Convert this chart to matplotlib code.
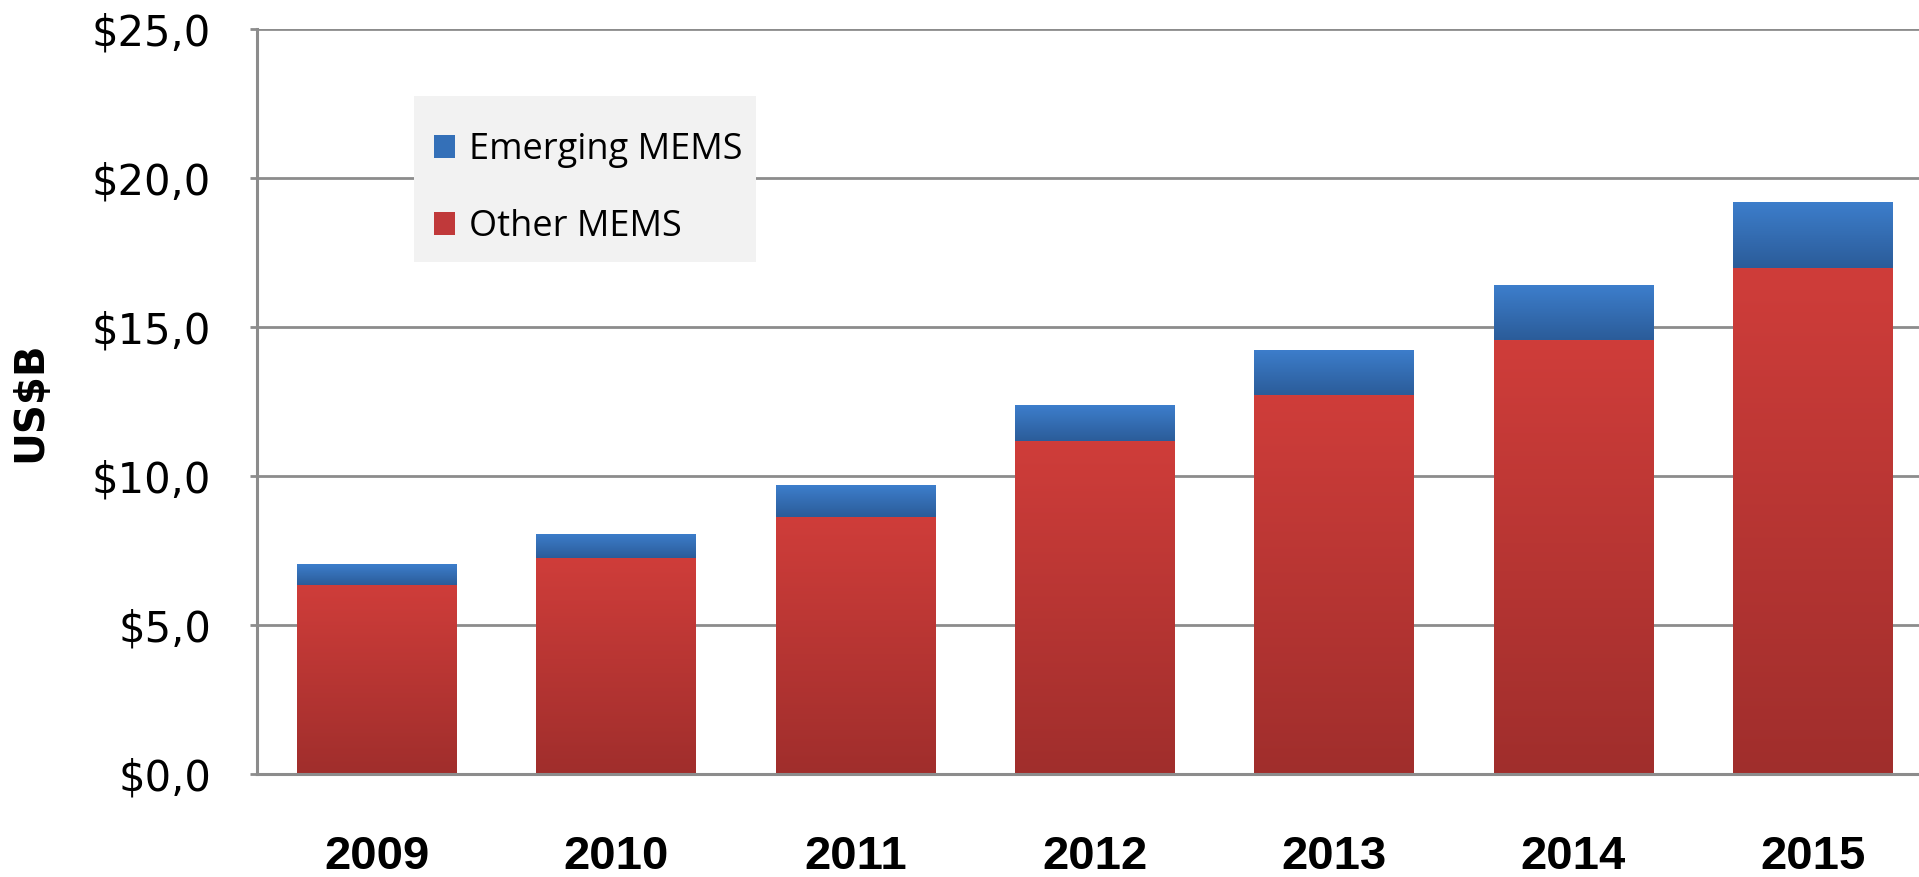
"""
MEMS market chart: stacked bars, other vs emerging MEMS (US$B).
"""
import numpy as np
import matplotlib.pyplot as plt
from matplotlib.colors import LinearSegmentedColormap
from matplotlib.patches import Rectangle
from matplotlib.ticker import FuncFormatter

years = ['2009', '2010', '2011', '2012', '2013', '2014', '2015']
other_mems = [6.35, 7.24, 8.63, 11.18, 12.70, 14.58, 16.98]
emerging_mems = [0.69, 0.81, 1.07, 1.19, 1.53, 1.82, 2.22]
y_ticks = [0, 5, 10, 15, 20, 25]

RED_TOP, RED_BOTTOM = '#CF3D3A', '#A02E2C'
BLUE_TOP, BLUE_BOTTOM = '#3D7ECC', '#2B5C99'
GRID = '#8C8C8C'


def shade_bars(ax, bars, top_color, bottom_color):
    """Paint a vertical gradient into each bar (top light, bottom dark)."""
    cmap = LinearSegmentedColormap.from_list('g', [bottom_color, top_color])
    grad = np.linspace(0, 1, 256).reshape(-1, 1)
    for bar in bars:
        x0, y0 = bar.get_x(), bar.get_y()
        x1, y1 = x0 + bar.get_width(), y0 + bar.get_height()
        im = ax.imshow(grad, cmap=cmap, origin='lower', aspect='auto',
                       extent=(x0, x1, y0, y1), zorder=bar.get_zorder() + 0.1)
        im.set_clip_path(bar)


def create_chart():
    fig = plt.figure(figsize=(19.19, 8.77), dpi=100)
    ax = fig.add_axes([0.1339, 0.118, 0.873, 0.8485])

    x = np.arange(len(years))
    width = 0.665

    red = ax.bar(x, other_mems, width, color='#C0393A', label='Other MEMS', zorder=3)
    blue = ax.bar(x, emerging_mems, width, bottom=other_mems, color='#3470B8',
                  label='Emerging MEMS', zorder=3)
    shade_bars(ax, red, RED_TOP, RED_BOTTOM)
    shade_bars(ax, blue, BLUE_TOP, BLUE_BOTTOM)

    ax.set_xlim(-0.5, len(years) - 0.5)
    ax.set_ylim(0, 25)

    # Axis styling
    ax.set_yticks(y_ticks)
    ax.yaxis.set_major_formatter(FuncFormatter(lambda v, p: f'${v:.1f}'.replace('.', ',')))
    ax.set_xticks(x)
    ax.set_xticklabels(years, family=['Liberation Sans', 'DejaVu Sans'],
                       fontweight='bold', fontsize=34)
    ax.tick_params(axis='x', length=0, pad=44)
    ax.tick_params(axis='y', length=5, width=2, color=GRID, labelsize=30, pad=28)
    ax.yaxis.grid(True, color=GRID, linewidth=2.0, zorder=0)
    ax.set_axisbelow(True)
    for side in ['top', 'right']:
        ax.spines[side].set_visible(False)
    for side in ['left', 'bottom']:
        ax.spines[side].set_color(GRID)
        ax.spines[side].set_linewidth(2.2)
    ax.spines['bottom'].set_zorder(4)

    ax.set_ylabel('US$B', fontsize=29, fontweight='bold', labelpad=30)

    # Legend background box (drawn separately so the entries can sit low in it)
    ax.add_patch(Rectangle((0.2156, 0.7013), 0.1786, 0.1898,
                           transform=fig.transFigure, facecolor='#F2F2F2',
                           edgecolor='none', zorder=4.5, clip_on=False))

    # Legend: emerging on top
    handles, labels = ax.get_legend_handles_labels()
    leg = ax.legend(handles[::-1], labels[::-1], loc='upper left',
                    bbox_to_anchor=(0.2264, 0.849), bbox_transform=fig.transFigure,
                    prop={'family': ['Open Sans', 'DejaVu Sans'], 'size': 26},
                    frameon=False, handlelength=0.58, handleheight=0.58,
                    handletextpad=0.39, labelspacing=1.13, borderpad=0, borderaxespad=0)
    leg.set_zorder(5)

    fig.savefig('out.png', dpi=100)
    plt.close(fig)


if __name__ == "__main__":
    create_chart()
